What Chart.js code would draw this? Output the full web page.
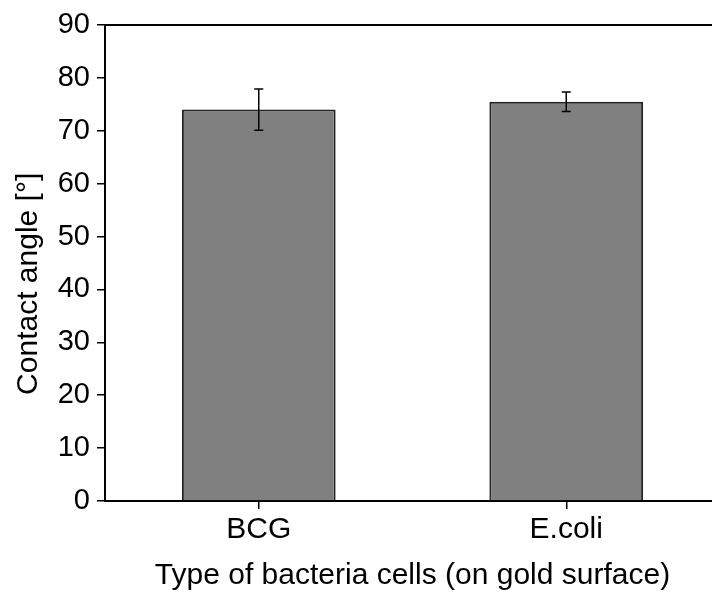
<!DOCTYPE html>
<html>
<head>
<meta charset="utf-8">
<script src="https://cdn.jsdelivr.net/npm/chart.js@4.4.0/dist/chart.umd.min.js"></script>
<style>
  html, body { margin: 0; padding: 0; background: #fff; overflow: hidden; }
  #wrap { width: 720px; height: 594px; }
</style>
</head>
<body>
<div id="wrap"><canvas id="chart"></canvas></div>
<script>
// Data
const categories = ['BCG', 'E.coli'];
const contactAngle = [74.0, 75.5];
const angleError = [3.9, 1.85];

const FONT = 'Liberation Sans, Arial, sans-serif';

// error bars + top frame line + minor y ticks
const extras = {
  id: 'extras',
  afterDatasetsDraw(chart) {
    const ctx = chart.ctx;
    const x = chart.scales.x, y = chart.scales.y;
    ctx.save();
    ctx.strokeStyle = '#000';
    ctx.lineWidth = 1.5;
    contactAngle.forEach((v, i) => {
      const px = x.getPixelForValue(i);
      const top = y.getPixelForValue(v + angleError[i]);
      const bot = y.getPixelForValue(v - angleError[i]);
      ctx.beginPath();
      ctx.moveTo(px, top); ctx.lineTo(px, bot);
      ctx.moveTo(px - 4.5, top); ctx.lineTo(px + 4.5, top);
      ctx.moveTo(px - 4.5, bot); ctx.lineTo(px + 4.5, bot);
      ctx.stroke();
    });
    ctx.restore();
  },
  afterDraw(chart) {
    const ctx = chart.ctx;
    const a = chart.chartArea, y = chart.scales.y;
    ctx.save();
    ctx.strokeStyle = '#000';
    ctx.lineWidth = 2;
    ctx.beginPath();
    ctx.moveTo(a.left - 1, a.top);
    ctx.lineTo(a.right, a.top);
    ctx.stroke();
    // minor ticks at the half steps
    ctx.lineWidth = 1.5;
    y.ticks.forEach(t => {
      if (t.value % 10 !== 0) {
        const py = y.getPixelForValue(t.value);
        ctx.beginPath();
        ctx.moveTo(a.left - 5, py); ctx.lineTo(a.left, py);
        ctx.stroke();
      }
    });
    ctx.restore();
  }
};

new Chart(document.getElementById('chart'), {
  type: 'bar',
  data: {
    labels: categories,
    datasets: [{
      data: contactAngle,
      backgroundColor: '#808080',
      borderColor: '#222',
      borderWidth: 2,
      barPercentage: 0.5,
      categoryPercentage: 1.0
    }]
  },
  options: {
    responsive: true,
    maintainAspectRatio: false,
    animation: false,
    layout: { padding: { top: 25, right: 0, bottom: 0, left: 0 } },
    plugins: { legend: { display: false }, tooltip: { enabled: false } },
    scales: {
      x: {
        offset: true,
        grid: { display: true, drawOnChartArea: false, drawTicks: true, tickLength: 8, color: '#000', lineWidth: 1.5, offset: false },
        border: { display: true, color: '#000', width: 2 },
        ticks: { color: '#000', font: { family: FONT, size: 30 }, padding: 3 },
        title: { display: true, text: 'Type of bacteria cells (on gold surface)', color: '#000', font: { family: FONT, size: 30 }, padding: 0 },
        afterFit: s => { s.height = 93; }
      },
      y: {
        min: 0, max: 90,
        ticks: {
          stepSize: 5, color: '#000', font: { family: FONT, size: 29 }, padding: 7,
          callback: v => (v % 10 === 0 ? v : '')
        },
        grid: {
          drawOnChartArea: false, drawTicks: true, tickLength: 8, lineWidth: 1.5,
          color: c => (c.tick && c.tick.value % 10 === 0 ? '#000' : 'rgba(0,0,0,0)')
        },
        border: { display: true, color: '#000', width: 2 },
        title: { display: true, text: 'Contact angle [°]\u00a0\u00a0\u00a0\u00a0\u00a0', color: '#000', font: { family: FONT, size: 30 }, padding: { top: 11, bottom: 0 } },
        afterFit: s => { s.width = 105; }
      }
    }
  },
  plugins: [extras]
});
</script>
</body>
</html>
